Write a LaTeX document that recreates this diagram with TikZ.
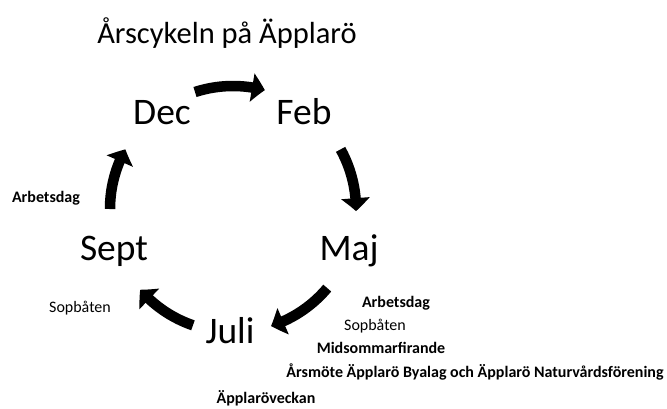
\documentclass[tikz,border=0pt]{standalone}
\usepackage{fontspec}
\setmainfont{Carlito}
\usetikzlibrary{arrows.meta,bending}
\tikzset{>=latex}

\begin{document}
\begin{tikzpicture}[x=1bp,y=1bp,
    month/.style={anchor=base,inner sep=0pt,font=\fontsize{37.5bp}{40bp}\selectfont},
    event/.style={anchor=base,inner sep=0pt,font=\fontsize{16bp}{18bp}\selectfont\bfseries},
    eventplain/.style={event,font=\fontsize{16bp}{18bp}\selectfont},
    cyc/.style={line width=10.5bp,-{Triangle[length=13bp,width=28bp,bend]}}]
        \useasboundingbox (0,0) rectangle (667,-408);
        % title
        \node[anchor=base,inner sep=0pt,font=\fontsize{30.5bp}{34bp}\selectfont] (title) at (227,-43) {Årscykeln på Äpplarö};
        % months round the cycle
        \node[month] (Dec) at (162,-124) {Dec};
        \node[month] (Feb) at (304,-124) {Feb};
        \node[month] (Maj) at (349,-260) {Maj};
        \node[month] (Juli) at (230,-343) {Juli};
        \node[month] (Sept) at (114,-260) {Sept};
        % cycle arrows
        \coordinate (hub) at (233,-209);
        \foreach \s/\e in {108/75, 29/-1, -40/-72, 251/221, 180/151}
            \draw[cyc] ([shift={(\s:123)}]hub) arc[start angle=\s, end angle=\e, radius=123];
        % events
        \node[event] (arbL) at (46,-202) {Arbetsdag};
        \node[eventplain] (sopL) at (80,-312) {Sopbåten};
        \node[event] (arbR) at (396,-307) {Arbetsdag};
        \node[eventplain] (sopR) at (375,-330) {Sopbåten};
        \node[event] (midsommar) at (381,-353) {Midsommarfirande};
        \node[event] (arsmote) at (475,-377) {Årsmöte Äpplarö Byalag och Äpplarö Naturvårdsförening};
        \node[event] (veckan) at (266,-403) {Äpplaröveckan};
    \end{tikzpicture}
\end{document}
